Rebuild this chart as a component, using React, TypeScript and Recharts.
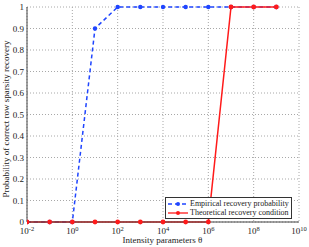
import React from 'react';
import { LineChart, Line, XAxis, YAxis, CartesianGrid } from 'recharts';

// intensity parameter theta, one point per decade
const thetaValues = [1e-2, 1e-1, 1e0, 1e1, 1e2, 1e3, 1e4, 1e5, 1e6, 1e7, 1e8, 1e9];
const empirical = [0, 0, 0, 0.9, 1, 1, 1, 1, 1, 1, 1, 1];
const theoretical = [0, 0, 0, 0, 0, 0, 0, 0, 0, 1, 1, 1];

const xTicks = [1e-2, 1e0, 1e2, 1e4, 1e6, 1e8, 1e10];
const yTicks = [0, 0.1, 0.2, 0.3, 0.4, 0.5, 0.6, 0.7, 0.8, 0.9, 1];

const data = thetaValues.map((theta, i) => ({
  theta,
  empirical: empirical[i],
  theoretical: theoretical[i],
}));

const FONT = '"Liberation Serif", "DejaVu Serif", serif';
const BLUE = '#1f45ff';
const RED = '#ff1a1a';

const PowerTick = (props: any) => {
  const { x, y, payload } = props;
  const exp = Math.round(Math.log10(payload.value));
  return (
    <text x={x} y={y + 4} textAnchor="middle" fontFamily={FONT} fontSize={9} fill="#222">
      <tspan>10</tspan>
      <tspan dy={-3.5} fontSize={6.5}>{exp}</tspan>
    </text>
  );
};

const LegendBox = () => (
  <div
    style={{
      position: 'absolute',
      left: 165,
      top: 197,
      border: '1px solid #333',
      background: '#fff',
      fontFamily: FONT,
      fontSize: 8,
      color: '#222',
      padding: '1px 2px 1px 1px',
      lineHeight: '9px',
      whiteSpace: 'nowrap',
    }}
  >
    <div style={{ display: 'flex', alignItems: 'center' }}>
      <svg width={22} height={8}>
        <line x1={1} y1={4} x2={21} y2={4} stroke={BLUE} strokeWidth={1.3} strokeDasharray="4 3" />
        <circle cx={11} cy={4} r={2} fill={BLUE} />
      </svg>
      <span style={{ marginLeft: 1 }}>Empirical recovery probability</span>
    </div>
    <div style={{ display: 'flex', alignItems: 'center' }}>
      <svg width={22} height={8}>
        <line x1={1} y1={4} x2={21} y2={4} stroke={RED} strokeWidth={1.3} />
        <circle cx={11} cy={4} r={2} fill={RED} />
      </svg>
      <span style={{ marginLeft: 1 }}>Theoretical recovery condition</span>
    </div>
  </div>
);

export default function App() {
  return (
    <div style={{ position: 'absolute', left: 0, top: 0, width: 309, height: 247, background: '#fff' }}>
      <LineChart width={309} height={247} data={data} margin={{ top: 7, right: 10, bottom: 0, left: 0 }}>
        <CartesianGrid stroke="#a8a8a8" strokeDasharray="1 2" strokeWidth={1} />
        <XAxis
          dataKey="theta"
          type="number"
          scale="log"
          domain={[1e-2, 1e10]}
          ticks={xTicks}
          interval={0}
          allowDataOverflow
          tick={<PowerTick />}
          tickLine={false}
          axisLine={{ stroke: '#444' }}
          height={25}
        />
        <XAxis xAxisId="top" orientation="top" dataKey="theta" type="number" scale="log" domain={[1e-2, 1e10]} ticks={xTicks} interval={0} tick={false} tickLine={false} axisLine={{ stroke: '#444' }} height={0} />
        <YAxis
          domain={[0, 1]}
          ticks={yTicks}
          interval={0}
          tickLine={false}
          tickSize={3}
          tickMargin={0}
          axisLine={{ stroke: '#444' }}
          tick={{ fontFamily: FONT, fontSize: 9, fill: '#222' }}
          width={27}
        />
        <YAxis yAxisId="right" orientation="right" domain={[0, 1]} ticks={yTicks} interval={0} tick={false} tickLine={false} axisLine={{ stroke: '#444' }} width={0} />
        <Line
          type="linear"
          dataKey="empirical"
          stroke={BLUE}
          strokeWidth={1.5}
          strokeDasharray="4 3"
          dot={{ r: 2.2, fill: BLUE, stroke: BLUE, strokeWidth: 0 }}
          isAnimationActive={false}
        />
        <Line
          type="linear"
          dataKey="theoretical"
          stroke={RED}
          strokeWidth={1.5}
          dot={{ r: 2.4, fill: RED, stroke: RED, strokeWidth: 0 }}
          isAnimationActive={false}
        />
      </LineChart>
      <div
        style={{
          position: 'absolute',
          left: 162.5,
          top: 235,
          transform: 'translateX(-50%)',
          fontFamily: FONT,
          fontSize: 9,
          lineHeight: '10px',
          color: '#222',
          whiteSpace: 'nowrap',
        }}
      >
        Intensity parameters θ
      </div>
      <div
        style={{
          position: 'absolute',
          left: 0,
          top: 0,
          width: 12,
          height: 247,
          display: 'flex',
          alignItems: 'center',
          justifyContent: 'center',
        }}
      >
        <div
          style={{
            transform: 'rotate(-90deg)',
            fontFamily: FONT,
            fontSize: 9,
            lineHeight: '10px',
            color: '#222',
            whiteSpace: 'nowrap',
            marginTop: -10,
          }}
        >
          Probability of correct row sparsity recovery
        </div>
      </div>
      <LegendBox />
    </div>
  );
}
